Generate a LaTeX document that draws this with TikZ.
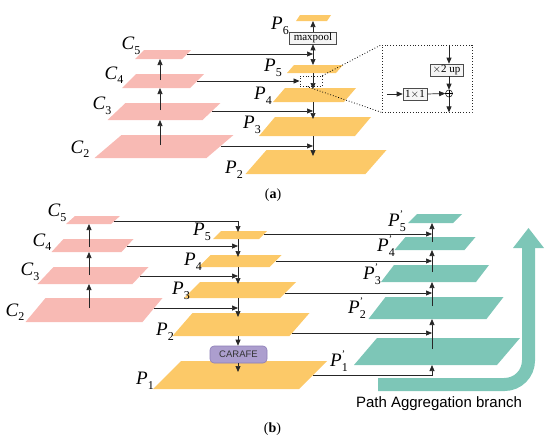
\documentclass[tikz,border=0pt]{standalone}
\usepackage{fontspec}
\setmainfont{Liberation Serif}[ItalicFont={Liberation Serif Italic},BoldFont={Liberation Serif Bold}]
\newfontfamily\serifit{Liberation Serif Italic}
\newfontfamily\arialf{Liberation Sans}
\usetikzlibrary{arrows.meta,calc}
\definecolor{pinkL}{RGB}{248,186,180}
\definecolor{orangeL}{RGB}{252,201,104}
\definecolor{tealL}{RGB}{125,198,183}
\definecolor{carafeF}{RGB}{172,158,206}
\definecolor{carafeD}{RGB}{140,125,182}
% layer: name, cx, top, bottom, width, skew, colour
\newcommand\layer[7]{%
  \coordinate (#1tl) at ({#2-#5/2+#6/2},#3);
  \coordinate (#1tr) at ({#2+#5/2+#6/2},#3);
  \coordinate (#1br) at ({#2+#5/2-#6/2},#4);
  \coordinate (#1bl) at ({#2-#5/2-#6/2},#4);
  \fill[#7] (#1tl) -- (#1tr) -- (#1br) -- (#1bl) -- cycle;}
\newcommand\lbl[2]{{\serifit\fontsize{19}{19}\selectfont #1}\raisebox{-4.5pt}{\fontsize{12}{12}\selectfont #2}}
\newcommand\lblp[2]{{\serifit\fontsize{19}{19}\selectfont #1}\rlap{\raisebox{9pt}{\fontsize{10}{10}\selectfont '}}\raisebox{-4.5pt}{\fontsize{12}{12}\selectfont #2}}
\begin{document}
\begin{tikzpicture}[x=1pt,y=-1pt,
  arr/.style={draw=black!85, line width=0.7pt, -{Triangle[length=6pt,width=5pt]}},
  ln/.style={draw=black!85, line width=0.7pt},
  lab/.style={inner sep=0pt},
  sbox/.style={draw=black!70, line width=0.6pt, fill=black!4, inner sep=0pt, font=\fontsize{11}{11}\selectfont},
  dotbox/.style={draw=black!85, dotted, line width=0.8pt, inner sep=0pt}]
\useasboundingbox (0,0) rectangle (550,442);
% ---------------- (a) layers
\layer{C5a}{163}{50}{59}{47}{9}{pinkL}
\layer{C4a}{163}{74}{88}{68}{14}{pinkL}
\layer{C3a}{164}{103}{120}{95}{18}{pinkL}
\layer{C2a}{164}{135}{158}{112}{27}{pinkL}
\layer{P6a}{313.5}{15}{21}{31}{4}{orangeL}
\layer{P5a}{315}{65}{73}{49}{7}{orangeL}
\layer{P4a}{314.5}{88}{102}{71}{12}{orangeL}
\layer{P3a}{315}{117}{136}{96}{16}{orangeL}
\layer{P2a}{316}{150}{174}{120}{21}{orangeL}
\coordinate (ca) at (160,0);
\coordinate (pa) at (313,0);
% labels (a)
\node[lab] (lC5a) at (131,46) {\lbl{C}{5}};
\node[lab] (lC4a) at (114,75) {\lbl{C}{4}};
\node[lab] (lC3a) at (102,106) {\lbl{C}{3}};
\node[lab] (lC2a) at (80,149) {\lbl{C}{2}};
\node[lab] (lP6a) at (280,26) {\lbl{P}{6}};
\node[lab] (lP5a) at (273,68) {\lbl{P}{5}};
\node[lab] (lP4a) at (263,96) {\lbl{P}{4}};
\node[lab] (lP3a) at (252,125) {\lbl{P}{3}};
\node[lab] (lP2a) at (234,170) {\lbl{P}{2}};
% C arrows (a)
\coordinate (C2am) at (160,145);
\coordinate (C3am) at (160,110);
\coordinate (C4am) at (160,80);
\draw[arr] (C2am) -- (C2am |- C3abl);
\draw[arr] (C3am) -- (C3am |- C4abl);
\draw[arr] (C4am) -- (C4am |- C5abl);
% maxpool and small box
\node[sbox, minimum width=47pt, minimum height=12pt] (mp) at (313,38) {maxpool};
\node[dotbox, minimum width=22pt, minimum height=10pt] (zb) at (311,81) {};
% lateral connections (a)
\coordinate (h5a) at (intersection of C5atr--C5abr and 0,54--10,54);
\coordinate (h4a) at (intersection of C4atr--C4abr and 0,81--10,81);
\coordinate (h3a) at (intersection of C3atr--C3abr and 0,111--10,111);
\coordinate (h2a) at (intersection of C2atr--C2abr and 0,146--10,146);
\draw[arr] (h5a) -- (h5a -| pa);
\draw[arr] (h5a -| pa) -- (mp.south);
\draw[arr] (mp.north) -- (mp.north |- P6abl);
\draw[arr] (h5a -| pa) -- (pa |- P5atl);
\draw[arr] (h4a) -- (zb.west);
\draw[arr] (pa |- P5abl) -- ($(pa |- P4atl)+(0,1)$);
\draw[arr] (h3a) -- (h3a -| pa);
\draw[arr] (pa |- P4abl) -- ($(pa |- P3atl)+(0,2)$);
\draw[arr] (h2a) -- (h2a -| pa);
\draw[arr] (pa |- P3abl) -- ($(pa |- P2atl)+(0,6)$);
% zoom inset
\node[dotbox, minimum width=90pt, minimum height=67pt] (zoomb) at (427,78.5) {};
\draw[dotted, line width=0.8pt] (zb.north east) -- (zoomb.north west);
\draw[dotted, line width=0.8pt] ($(zb.south west)!0.3!(zb.south east)$) -- (zoomb.south west);
\node[sbox, minimum width=33pt, minimum height=12pt] (up) at (446.5,70) {$\times$2 up};
\node[circle, draw=black!85, line width=0.6pt, inner sep=0pt, minimum size=7pt, fill=white] (op) at (449,93.5) {};
\draw[line width=0.5pt] (op.north) -- (op.south) (op.west) -- (op.east);
\node[sbox, minimum width=24pt, minimum height=12pt] (onex) at (415,94) {1$\times$1};
\coordinate (in1) at (387,94);
\draw[arr] (op |- zoomb.north) -- (op |- up.north);
\draw[arr] (op |- up.south) -- (op.north);
\draw[arr] (in1) -- (onex.west);
\draw[arr] (onex.east) -- (op.west);
\draw[arr] (op.south) -- (op.south |- zoomb.south);
\node (capa) at (273,195) {\fontsize{14}{14}\selectfont(\textbf{a})};
% ---------------- (b) layers
\layer{C5b}{93}{216}{224}{45}{9}{pinkL}
\layer{C4b}{92.5}{239}{252}{70}{12}{pinkL}
\layer{C3b}{93}{267}{284}{95}{16}{pinkL}
\layer{C2b}{94}{298}{322}{117}{20}{pinkL}
\layer{P5b}{240}{231}{239}{46}{8}{orangeL}
\layer{P4b}{240}{255}{267}{71}{12}{orangeL}
\layer{P3b}{240}{282}{298}{96}{16}{orangeL}
\layer{P2b}{241}{313}{336}{117}{20}{orangeL}
\layer{P1b}{240}{361}{389}{146}{28}{orangeL}
\layer{Q5b}{435}{214}{223}{45}{9}{tealL}
\layer{Q4b}{435}{237}{250}{70}{11}{tealL}
\layer{Q3b}{435}{265}{282}{95}{13}{tealL}
\layer{Q2b}{436}{297}{319}{118}{17}{tealL}
\layer{Q1b}{437}{338}{365}{143}{23}{tealL}
\coordinate (cb) at (89,0);
\coordinate (pbx) at (238,0);
\coordinate (ppx) at (432,0);
% big arrow
\draw[tealL, line width=13pt, rounded corners=24pt] (378,384.5) -- (528.5,384.5) -- (528.5,247);
\fill[tealL] (513,248) -- (528.5,228) -- (544,248) -- cycle;
\node[font=\arialf\fontsize{15}{15}\selectfont, inner sep=0pt, anchor=base] (pab) at (439,407.5) {Path Aggregation branch};
% labels (b)
\node[lab] (lC5b) at (57,213) {\lbl{C}{5}};
\node[lab] (lC4b) at (42,242) {\lbl{C}{4}};
\node[lab] (lC3b) at (30,272) {\lbl{C}{3}};
\node[lab] (lC2b) at (15,312) {\lbl{C}{2}};
\node[lab] (lP5b) at (202,232) {\lbl{P}{5}};
\node[lab] (lP4b) at (193,262) {\lbl{P}{4}};
\node[lab] (lP3b) at (181,291) {\lbl{P}{3}};
\node[lab] (lP2b) at (165,332) {\lbl{P}{2}};
\node[lab] (lP1b) at (145,381) {\lbl{P}{1}};
\node[lab] (lQ5b) at (397,221) {\lblp{P}{5}};
\node[lab] (lQ4b) at (386,246) {\lblp{P}{4}};
\node[lab] (lQ3b) at (372,274) {\lblp{P}{3}};
\node[lab] (lQ2b) at (357,308) {\lblp{P}{2}};
\node[lab] (lQ1b) at (339,361) {\lblp{P}{1}};
% CARAFE
\node[draw=carafeD, fill=carafeF, line width=0.6pt, rounded corners=4pt, minimum width=57pt, minimum height=17pt, inner sep=0pt, font=\arialf\fontsize{9.5}{9.5}\selectfont, text=black!80] (carafe) at (238.5,354.5) {CARAFE};
% C arrows (b)
\coordinate (C2bm) at (89,308);
\coordinate (C3bm) at (89,275);
\coordinate (C4bm) at (89,247);
\draw[arr] (C2bm) -- (C2bm |- C3bbl);
\draw[arr] (C3bm) -- (C3bm |- C4bbl);
\draw[arr] (C4bm) -- (C4bm |- C5bbl);
% lateral (b)
\coordinate (h5b) at (intersection of C5btr--C5bbr and 0,221--10,221);
\coordinate (h4b) at (intersection of C4btr--C4bbr and 0,246--10,246);
\coordinate (h3b) at (intersection of C3btr--C3bbr and 0,276--10,276);
\coordinate (h2b) at (intersection of C2btr--C2bbr and 0,308--10,308);
\draw[arr] (h5b) -| ($(pbx |- P5btl)+(0,1)$);
\draw[arr] (h4b) -- (h4b -| pbx);
\draw[arr] (h3b) -- (h3b -| pbx);
\draw[arr] (h2b) -- (h2b -| pbx);
\draw[arr] (pbx |- P5bbl) -- ($(pbx |- P4btl)+(0,2)$);
\draw[arr] (pbx |- P4bbl) -- ($(pbx |- P3btl)+(0,2)$);
\draw[arr] (pbx |- P3bbl) -- ($(pbx |- P2btl)+(0,4)$);
\draw[arr] (pbx |- P2bbl) -- (pbx |- carafe.north);
\coordinate (p1in) at (238,372);
\draw[arr] (pbx |- carafe.south) -- (p1in);
% P -> P'
\coordinate (q5) at (intersection of P5btr--P5bbr and 0,234--10,234);
\coordinate (q4) at (intersection of P4btr--P4bbr and 0,261--10,261);
\coordinate (q3) at (intersection of P3btr--P3bbr and 0,293--10,293);
\coordinate (q2) at (intersection of P2btr--P2bbr and 0,333--10,333);
\coordinate (q1) at (intersection of P1btr--P1bbr and 0,375--10,375);
\draw[arr] (q5) -- (q5 -| ppx);
\draw[arr] (q4) -- (q4 -| ppx);
\draw[arr] (q3) -- (q3 -| ppx);
\draw[arr] (q2) -- (q2 -| ppx);
\draw[arr] (q1) -| (ppx |- Q1bbl);
% P' upward
\coordinate (m1) at (432,349);
\coordinate (m2) at (432,306);
\coordinate (m3) at (432,272);
\coordinate (m4) at (432,242);
\draw[arr] (m1) -- (m1 |- Q2bbl);
\draw[arr] (m2) -- (m2 |- Q3bbl);
\draw[arr] (m3) -- (m3 |- Q4bbl);
\draw[arr] (m4) -- (m4 |- Q5bbl);
\node (capb) at (272.5,429) {\fontsize{14}{14}\selectfont(\textbf{b})};
\end{tikzpicture}
\end{document}
